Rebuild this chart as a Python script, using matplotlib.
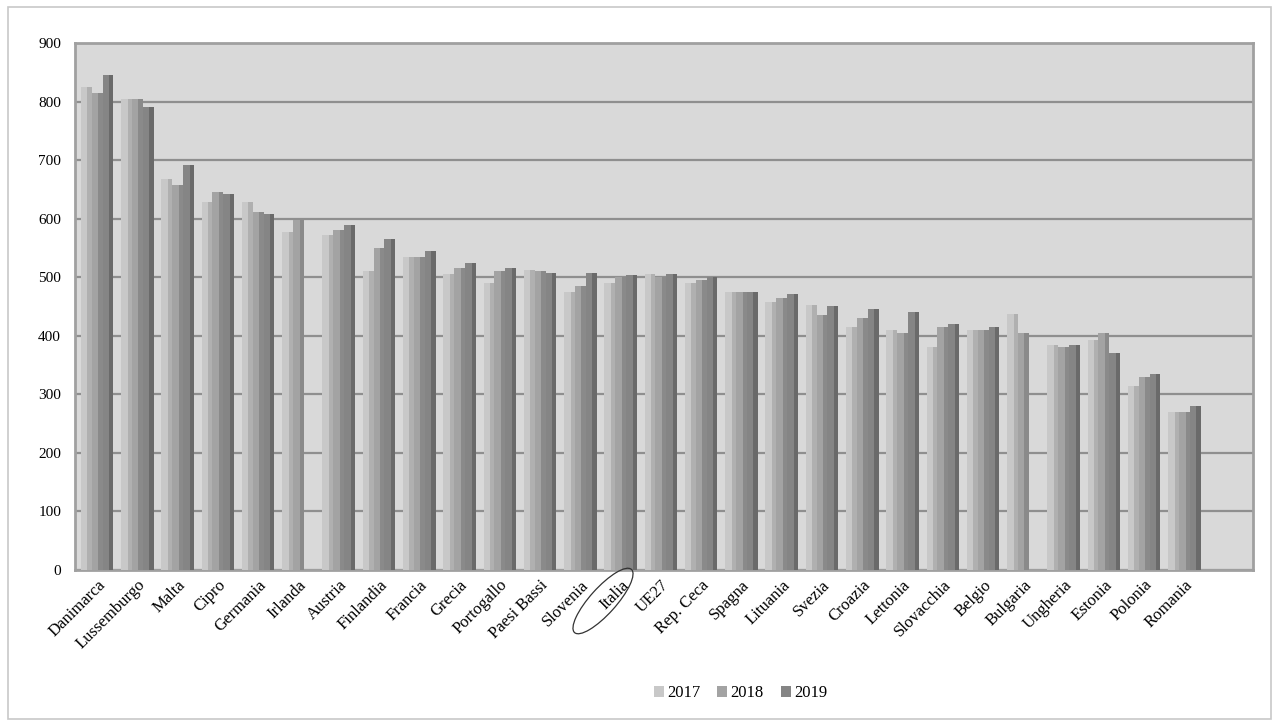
import numpy as np
import matplotlib
matplotlib.use('Agg')
import matplotlib.pyplot as plt
from matplotlib.patches import Ellipse, Rectangle

countries = ["Danimarca", "Lussemburgo", "Malta", "Cipro", "Germania", "Irlanda",
             "Austria", "Finlandia", "Francia", "Grecia", "Portogallo", "Paesi Bassi",
             "Slovenia", "Italia", "UE27", "Rep. Ceca", "Spagna", "Lituania", "Svezia",
             "Croazia", "Lettonia", "Slovacchia", "Belgio", "Bulgaria", "Ungheria",
             "Estonia", "Polonia", "Romania"]
v2017 = [825, 805, 668, 628, 628, 578, 572, 510, 535, 505, 490, 512, 475, 490,
         505, 490, 475, 458, 452, 415, 410, 380, 410, 437, 385, 392, 315, 270]
v2018 = [815, 805, 658, 645, 612, 598, 580, 550, 535, 515, 510, 510, 485, 500,
         500, 495, 475, 465, 435, 430, 405, 415, 410, 405, 380, 405, 330, 270]
v2019 = [845, 790, 692, 642, 608, np.nan, 590, 565, 545, 525, 515, 508, 508, 503,
         505, 500, 475, 472, 450, 445, 440, 420, 415, np.nan, 385, 370, 335, 280]
years = ["2017", "2018", "2019"]

colors = ["#c8c8c8", "#a3a3a3", "#858585"]
shade = ["#b0b0b0", "#8a8a8a", "#6a6a6a"]

plt.rcParams['font.family'] = ['Liberation Serif', 'DejaVu Serif']

fig = plt.figure(figsize=(12.79, 7.26), dpi=100)
fig.patches.append(Rectangle((0.006, 0.01), 0.988, 0.98, transform=fig.transFigure,
                             fill=False, edgecolor='#c8c8c8', linewidth=1.2))
ax = fig.add_axes([0.0586, 0.2149, 0.921, 0.7259])
ax.set_facecolor('#d9d9d9')

x = np.arange(len(countries))
w = 0.27
for i, (vals, yr) in enumerate(zip([v2017, v2018, v2019], years)):
    pos = x + (i - 1) * w
    ax.bar(pos, vals, width=w, color=colors[i], label=yr, zorder=3, linewidth=0)
    # darker right strip for a faux 3D look
    ax.bar(pos + w * 0.3, vals, width=w * 0.4, color=shade[i], zorder=3, linewidth=0)

ax.set_xlim(-0.55, 28.7)
ax.set_ylim(0, 900)
ax.set_yticks(range(0, 901, 100))
ax.yaxis.grid(True, color='#8f8f8f', linewidth=1.6, zorder=0)
ax.set_axisbelow(True)
ax.set_xticks(x)
ax.set_xticklabels(countries, rotation=45, ha='right', rotation_mode='anchor', fontsize=12)
ax.tick_params(axis='y', labelsize=11, length=0, pad=10)
ax.tick_params(axis='x', length=0, pad=5)
for s in ax.spines.values():
    s.set_color('#a0a0a0')
    s.set_linewidth(2)

# ellipse round the Italia label (inches, so the shape is not squashed)
fig.patches.append(Ellipse((6.03, 1.25), 0.85, 0.26, angle=48,
                           transform=fig.dpi_scale_trans, fill=False, edgecolor='#333333',
                           linewidth=0.9))

ax.legend(loc='upper center', bbox_to_anchor=(0.565, -0.19), ncol=3, frameon=False,
          fontsize=12, handlelength=0.6, handleheight=0.6, handletextpad=0.2,
          columnspacing=1.0)

plt.savefig("out.png", dpi=100)
